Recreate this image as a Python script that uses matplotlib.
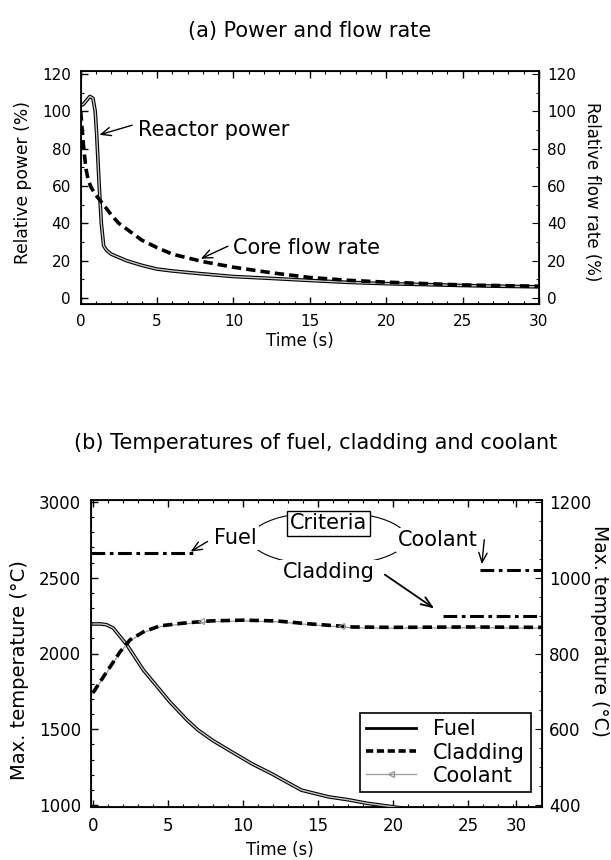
import matplotlib
matplotlib.use("Agg")
import matplotlib.pyplot as plt
from matplotlib.patches import Ellipse
from matplotlib.ticker import MultipleLocator
from matplotlib.lines import Line2D

plt.rcParams['font.family'] = ['DejaVu Sans']

# ---------------- data: panel (a) ----------------
power_t = [0, 0.2, 0.4, 0.6, 0.8, 0.95, 1.05, 1.2, 1.35, 1.5, 1.7, 2.0, 3.0, 4.0, 5.0, 6.0, 7.5, 10, 12.5, 15, 17.5, 20, 22.5, 25, 27.5, 30]
power_v = [103, 104, 106, 108, 107, 100, 87, 62, 40, 28, 25.5, 23.5, 20.0, 17.5, 15.5, 14.5, 13.3, 11.5, 10.5, 9.4, 8.4, 7.7, 7.2, 6.7, 6.3, 6.0]
flow_t = [0, 0.1, 0.2, 0.35, 0.5, 0.7, 1.0, 1.5, 2.0, 2.5, 3.0, 4.0, 5.0, 6.0, 7.0, 8.0, 10, 12.5, 15, 17.5, 20, 25, 30]
flow_v = [100, 90, 80, 69, 63, 59, 55, 50, 44.5, 40, 37, 31, 27, 23.5, 21.5, 19.5, 16.5, 13.5, 11, 9.5, 8.5, 7.0, 6.3]

# ---------------- data: panel (b) ----------------
fuel_t = [0, 0.5, 0.9, 1.35, 2.27, 3.36, 4.47, 5.13, 6.27, 7.0, 8.0, 9.3, 10.6, 11.9, 13.9, 15.7, 17.0, 18.3, 19.5, 20.6]
fuel_v = [2195, 2195, 2190, 2168, 2056, 1891, 1759, 1680, 1561, 1495, 1425, 1348, 1272, 1207, 1098, 1054, 1035, 1011, 995, 980]
clad_t = [0, 0.47, 1.13, 1.8, 2.47, 3.36, 4.47, 6.0, 7.8, 10, 12.2, 14.5, 17.3, 20, 25, 30]
clad_v = [696, 725, 764, 804, 836, 857, 873, 880, 886, 888, 886, 878, 870, 869, 870, 869]
cool_t = clad_t
cool_v = [694, 723, 762, 802, 834, 855, 871, 878, 884, 886, 884, 876, 868, 867, 868, 867]

# criteria (fuel on left axis, cladding/coolant on right axis)
fuel_crit_t = [-0.15, 6.9]
fuel_crit_v = [2660, 2660]
clad_crit_t = [23.3, 29.93]
clad_crit_v = [900, 900]
cool_crit_t = [25.8, 29.93]
cool_crit_v = [1020, 1020]

W, H = 611, 860
fig = plt.figure(figsize=(W / 100, H / 100), dpi=100)

def fx(px):
    return px / W

def fy(py):
    return 1 - py / H

def style_axis(ax, size):
    ax.tick_params(direction='in', which='both', top=True, labelsize=size, pad=7)
    ax.tick_params(which='major', length=5, width=1)
    ax.tick_params(which='minor', length=2.5, width=0.8)
    for s in ax.spines.values():
        s.set_linewidth(1.3)

# ---------------- panel (a) ----------------
ax1 = fig.add_axes([fx(80.7), fy(304), fx(539 - 80.7), (304 - 71) / H])
ax1.plot(power_t, power_v, color='black', lw=2.6, solid_capstyle='round', zorder=3)
ax1.plot(power_t, power_v, color='#c8c8c8', lw=1.0, zorder=4)
ax1.plot(flow_t, flow_v, color='black', lw=2.6, dashes=(2.6, 1.4), zorder=5)
ax1.set_xlim(0, 30)
ax1.set_ylim(-3.2, 121.6)
ax1.set_xticks(range(0, 31, 5))
ax1.set_yticks(range(0, 121, 20))
ax1.xaxis.set_minor_locator(MultipleLocator(1))
ax1.yaxis.set_minor_locator(MultipleLocator(10))
style_axis(ax1, 11)
ax1.tick_params(axis='y', which='both', right=False)
ax1r = ax1.twinx()
ax1r.set_ylim(-3.2, 121.6)
ax1r.set_yticks(range(0, 121, 20))
ax1r.yaxis.set_minor_locator(MultipleLocator(10))
ax1r.tick_params(direction='in', which='both', labelsize=11, pad=6)
ax1r.tick_params(which='major', length=5)
ax1r.tick_params(which='minor', length=2.5)

ap = dict(arrowstyle='->,head_length=0.7,head_width=0.3', lw=1.0, color='black')
ax1.text(3.75, 90, 'Reactor power', fontsize=15, ha='left', va='center')
ax1.annotate('', xy=(1.05, 87), xytext=(3.55, 93), arrowprops=ap)
ax1.text(10.0, 26.7, 'Core flow rate', fontsize=15, ha='left', va='center')
ax1.annotate('', xy=(7.7, 20.4), xytext=(9.8, 28.4), arrowprops=ap)

fig.text(fx(310), fy(31), '(a) Power and flow rate', fontsize=15, ha='center', va='center')
fig.text(fx(300), fy(341), 'Time (s)', fontsize=12, ha='center', va='center')
fig.text(fx(23), fy(183), 'Relative power (%)', fontsize=12.3, rotation=90, ha='center', va='center')
fig.text(fx(592), fy(192), 'Relative flow rate (%)', fontsize=12, rotation=270, ha='center', va='center')

# ---------------- panel (b) ----------------
ax2 = fig.add_axes([fx(90.7), fy(807), fx(542 - 90.7), (807 - 500) / H])
ax2.set_xlim(-0.15, 29.93)
ax2.set_ylim(987, 3013)
ax2r = ax2.twinx()
ax2r.set_ylim(400 + (987 - 1000) * 0.4, 400 + (3013 - 1000) * 0.4)

ax2.plot(fuel_t, fuel_v, color='black', lw=2.6, zorder=3)
ax2.plot(fuel_t, fuel_v, color='#c8c8c8', lw=1.0, zorder=4)
ax2r.plot(cool_t, cool_v, color='#9a9a9a', lw=0.9, zorder=3)
ax2r.plot(clad_t, clad_v, color='black', lw=2.6, dashes=(2.6, 1.4), zorder=4)
ax2r.plot([7.2, 16.5], [885, 873], ls='none', marker='<', ms=5, mfc='none', mec='#9a9a9a', mew=0.8, zorder=5)

ax2.plot(fuel_crit_t, fuel_crit_v, color='black', lw=2.2, dashes=(4.5, 1.5, 1.2, 1.5))
ax2r.plot(clad_crit_t, clad_crit_v, color='black', lw=2.2, dashes=(4.5, 1.5, 1.2, 1.5))
ax2r.plot(cool_crit_t, cool_crit_v, color='black', lw=2.2, dashes=(4.5, 1.5, 1.2, 1.5))

ax2.set_xticks([0, 5, 10, 15, 20, 25, 28.2])
ax2.set_xticklabels(['0', '5', '10', '15', '20', '25', '30'])
ax2.set_yticks(range(1000, 3001, 500))
ax2.xaxis.set_minor_locator(MultipleLocator(1))
ax2.yaxis.set_minor_locator(MultipleLocator(100))
style_axis(ax2, 12)
ax2.tick_params(axis='y', which='both', right=False)
ax2r.set_yticks(range(400, 1201, 200))
ax2r.yaxis.set_minor_locator(MultipleLocator(50))
ax2r.tick_params(direction='in', which='both', labelsize=12, pad=5)
ax2r.tick_params(which='major', length=5)
ax2r.tick_params(which='minor', length=2.5)

# criteria labels
ell = Ellipse((15.7, 2759), width=10.4, height=356, fill=False, lw=0.8, color='black', zorder=2)
ax2.add_patch(ell)
wb = dict(boxstyle='square,pad=0.1', fc='white', ec='none')
ax2.text(15.7, 2861, 'Criteria', fontsize=15, ha='center', va='center', zorder=6,
         bbox=dict(boxstyle='square,pad=0.12', fc='white', ec='black', lw=1.0))
ax2.text(9.5, 2762, 'Fuel', fontsize=15, ha='center', va='center', zorder=6, bbox=wb)
ax2.text(15.7, 2538, 'Cladding', fontsize=15, ha='center', va='center', zorder=6, bbox=wb)
ax2.text(23.0, 2749, 'Coolant', fontsize=15, ha='center', va='center', zorder=6, bbox=wb)
ax2.annotate('', xy=(6.35, 2663), xytext=(7.8, 2749), arrowprops=ap, zorder=7)
ax2.annotate('', xy=(22.9, 2287), xytext=(19.3, 2531),
             arrowprops=dict(arrowstyle='->,head_length=0.8,head_width=0.3', lw=1.3, color='black'), zorder=7)
ax2.annotate('', xy=(25.9, 2571), xytext=(26.1, 2769), arrowprops=ap, zorder=7)

# legend
h_fuel = Line2D([], [], color='black', lw=2.0)
h_clad = Line2D([], [], color='black', lw=2.6, dashes=(2.0, 1.0))
h_cool = Line2D([], [], color='#9a9a9a', lw=0.9, marker='<', ms=5, mfc='none', mec='#9a9a9a', markevery=[0])
leg = ax2.legend([h_fuel, h_clad, h_cool], ['Fuel', 'Cladding', 'Coolant'],
                 loc='lower right', bbox_to_anchor=(0.976, 0.049), borderaxespad=0,
                 fontsize=15, frameon=True, fancybox=False, framealpha=1,
                 handlelength=2.4, handletextpad=0.8, labelspacing=0.15, borderpad=0.3)
leg.get_frame().set_edgecolor('black')
leg.get_frame().set_linewidth(1.2)
leg.set_zorder(10)

fig.text(fx(316), fy(443), '(b) Temperatures of fuel, cladding and coolant', fontsize=15, ha='center', va='center')
fig.text(fx(280), fy(850), 'Time (s)', fontsize=12, ha='center', va='center')
fig.text(fx(20), fy(670), 'Max. temperature (\u00b0C)', fontsize=14, rotation=90, ha='center', va='center')
fig.text(fx(599), fy(631), 'Max. temperature (\u00b0C)', fontsize=13.5, rotation=270, ha='center', va='center',
         family=['Liberation Sans Narrow', 'DejaVu Sans'])

fig.savefig('out.png', dpi=100)
